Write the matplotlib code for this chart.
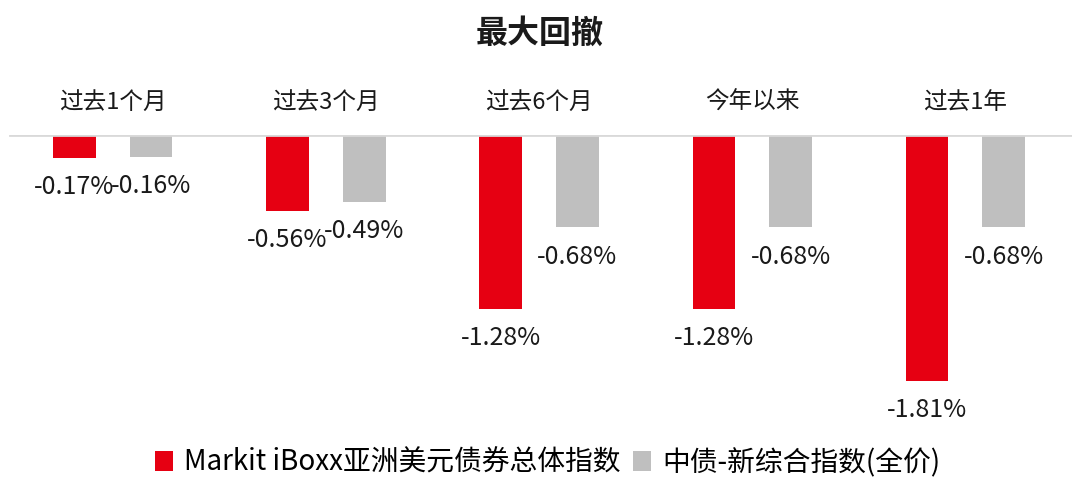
import matplotlib.pyplot as plt
import numpy as np

plt.rcParams['font.family'] = ['Noto Sans CJK SC', 'DejaVu Sans']

# Data
periods = ["过去1个月", "过去3个月", "过去6个月", "今年以来", "过去1年"]
iboxx = [-0.17, -0.56, -1.28, -1.28, -1.81]
chinabond = [-0.16, -0.49, -0.68, -0.68, -0.68]
series_names = ["Markit iBoxx亚洲美元债券总体指数", "中债-新综合指数(全价)"]

red = "#E60012"
grey = "#BFBFBF"

fig = plt.figure(figsize=(10.8, 4.95), dpi=100)
ax = fig.add_axes([0.0056, 0.1232, 0.987, 0.604])

x = np.arange(len(periods))
offset = 0.18
width = 0.2

b1 = ax.bar(x - offset, iboxx, width, color=red, label=series_names[0])
b2 = ax.bar(x + offset, chinabond, width, color=grey, label=series_names[1])

# value labels under each bar
for xs, vals in [(x - offset, iboxx), (x + offset, chinabond)]:
    for xi, v in zip(xs, vals):
        ax.annotate(f"{v:.2f}%", xy=(xi, v), xytext=(0, -21),
                    textcoords="offset points", ha="center", va="center",
                    fontsize=18, color="#1a1a1a")

# category names above the zero line
for xi, name in zip(x, periods):
    ax.text(xi, 0.243, name, ha="center", va="center", fontsize=17,
            color="#1a1a1a", clip_on=False)

ax.axhline(0, color="#D9D9D9", lw=2, xmin=0.004, xmax=1.0)
ax.set_xlim(-0.5, 4.5)
ax.set_ylim(-2.2, 0)
ax.axis("off")

fig.text(0.5, 1 - 34 / 495, "最大回撤", ha="center", va="center",
         fontsize=23, fontweight="bold", color="#1a1a1a")

ax.legend(loc="center", bbox_to_anchor=(0.507, 0.0647),
          bbox_transform=fig.transFigure, ncol=2, frameon=False,
          fontsize=20, handlelength=0.65, handleheight=0.75,
          handletextpad=0.4, columnspacing=0.45, borderpad=0)

plt.savefig("out.png", dpi=100)
